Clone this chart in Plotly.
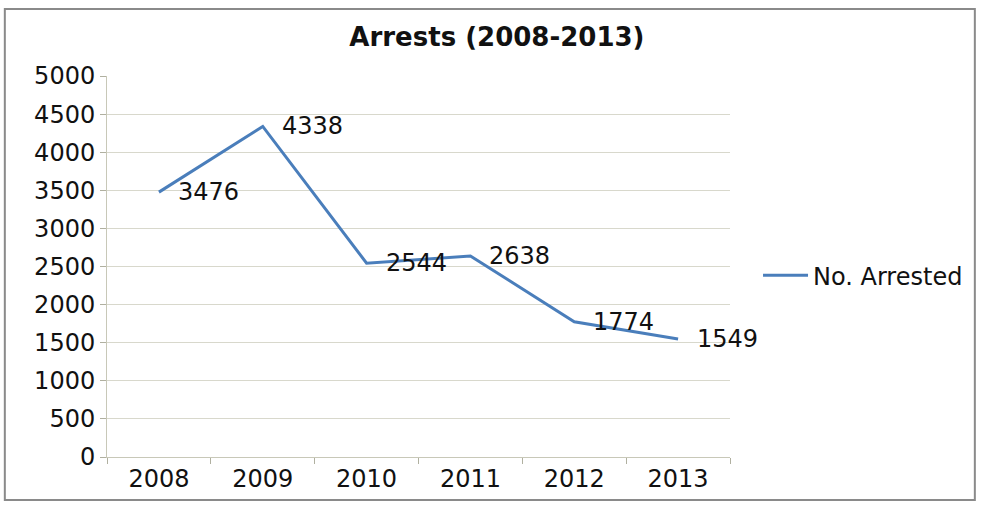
import plotly.graph_objects as go

years = ["2008", "2009", "2010", "2011", "2012", "2013"]
arrested = [3476, 4338, 2544, 2638, 1774, 1549]
series_name = "No. Arrested"
title_text = "<b>Arrests (2008-2013)</b>"
y_ticks = [0, 500, 1000, 1500, 2000, 2500, 3000, 3500, 4000, 4500, 5000]

FONT = "DejaVu Sans"
LINE_COLOR = "#4a7ebb"
GRID = "#d8d8cc"

fig = go.Figure()
fig.add_trace(go.Scatter(
    x=years, y=arrested, mode="lines", name=series_name,
    line=dict(color=LINE_COLOR, width=3),
))

# data labels (category axis: annotation x given as category index)
for i, yv in enumerate(arrested):
    fig.add_annotation(x=i, y=yv, text=str(yv), showarrow=False,
                       xanchor="left", yanchor="middle", xshift=17,
                       font=dict(family=FONT, size=24, color="#111"))

fig.add_shape(type="rect", xref="paper", yref="paper",
              x0=-0.164, x1=1.393, y0=-0.113, y1=1.176,
              line=dict(color="#8a8a8a", width=2), layer="below")

fig.update_layout(
    width=984, height=506,
    margin=dict(l=107, r=254, t=76, b=49),
    paper_bgcolor="white", plot_bgcolor="white",
    title=dict(text=title_text, x=0.505, xanchor="center", y=0.927, yanchor="middle",
               font=dict(family=FONT, size=26, color="#111")),
    font=dict(family=FONT, size=24, color="#111"),
    showlegend=True,
    legend=dict(x=1.045, xanchor="left", y=0.476, yanchor="middle",
                itemwidth=45,
                font=dict(family=FONT, size=24, color="#111"),
                bgcolor="rgba(0,0,0,0)"),
    xaxis=dict(type="category", range=[-0.5, 5.5], showgrid=False,
               showline=True, linecolor="#c8c8b8", linewidth=1,
               ticks="outside", tickson="boundaries", ticklen=6, tickcolor="#b0b0a0",
               tickfont=dict(family=FONT, size=24, color="#111"), zeroline=False),
    yaxis=dict(range=[0, 5000], tickvals=y_ticks, showgrid=True, gridcolor=GRID,
               gridwidth=1, showline=True, linecolor="#c8c8b8", linewidth=1,
               ticks="outside", ticklen=6, tickcolor="#b0b0a0", zeroline=False,
               tickfont=dict(family=FONT, size=24, color="#111")),
)

fig.write_html("out.html", config={"displayModeBar": False},
               post_script="document.body.style.margin='0';")
